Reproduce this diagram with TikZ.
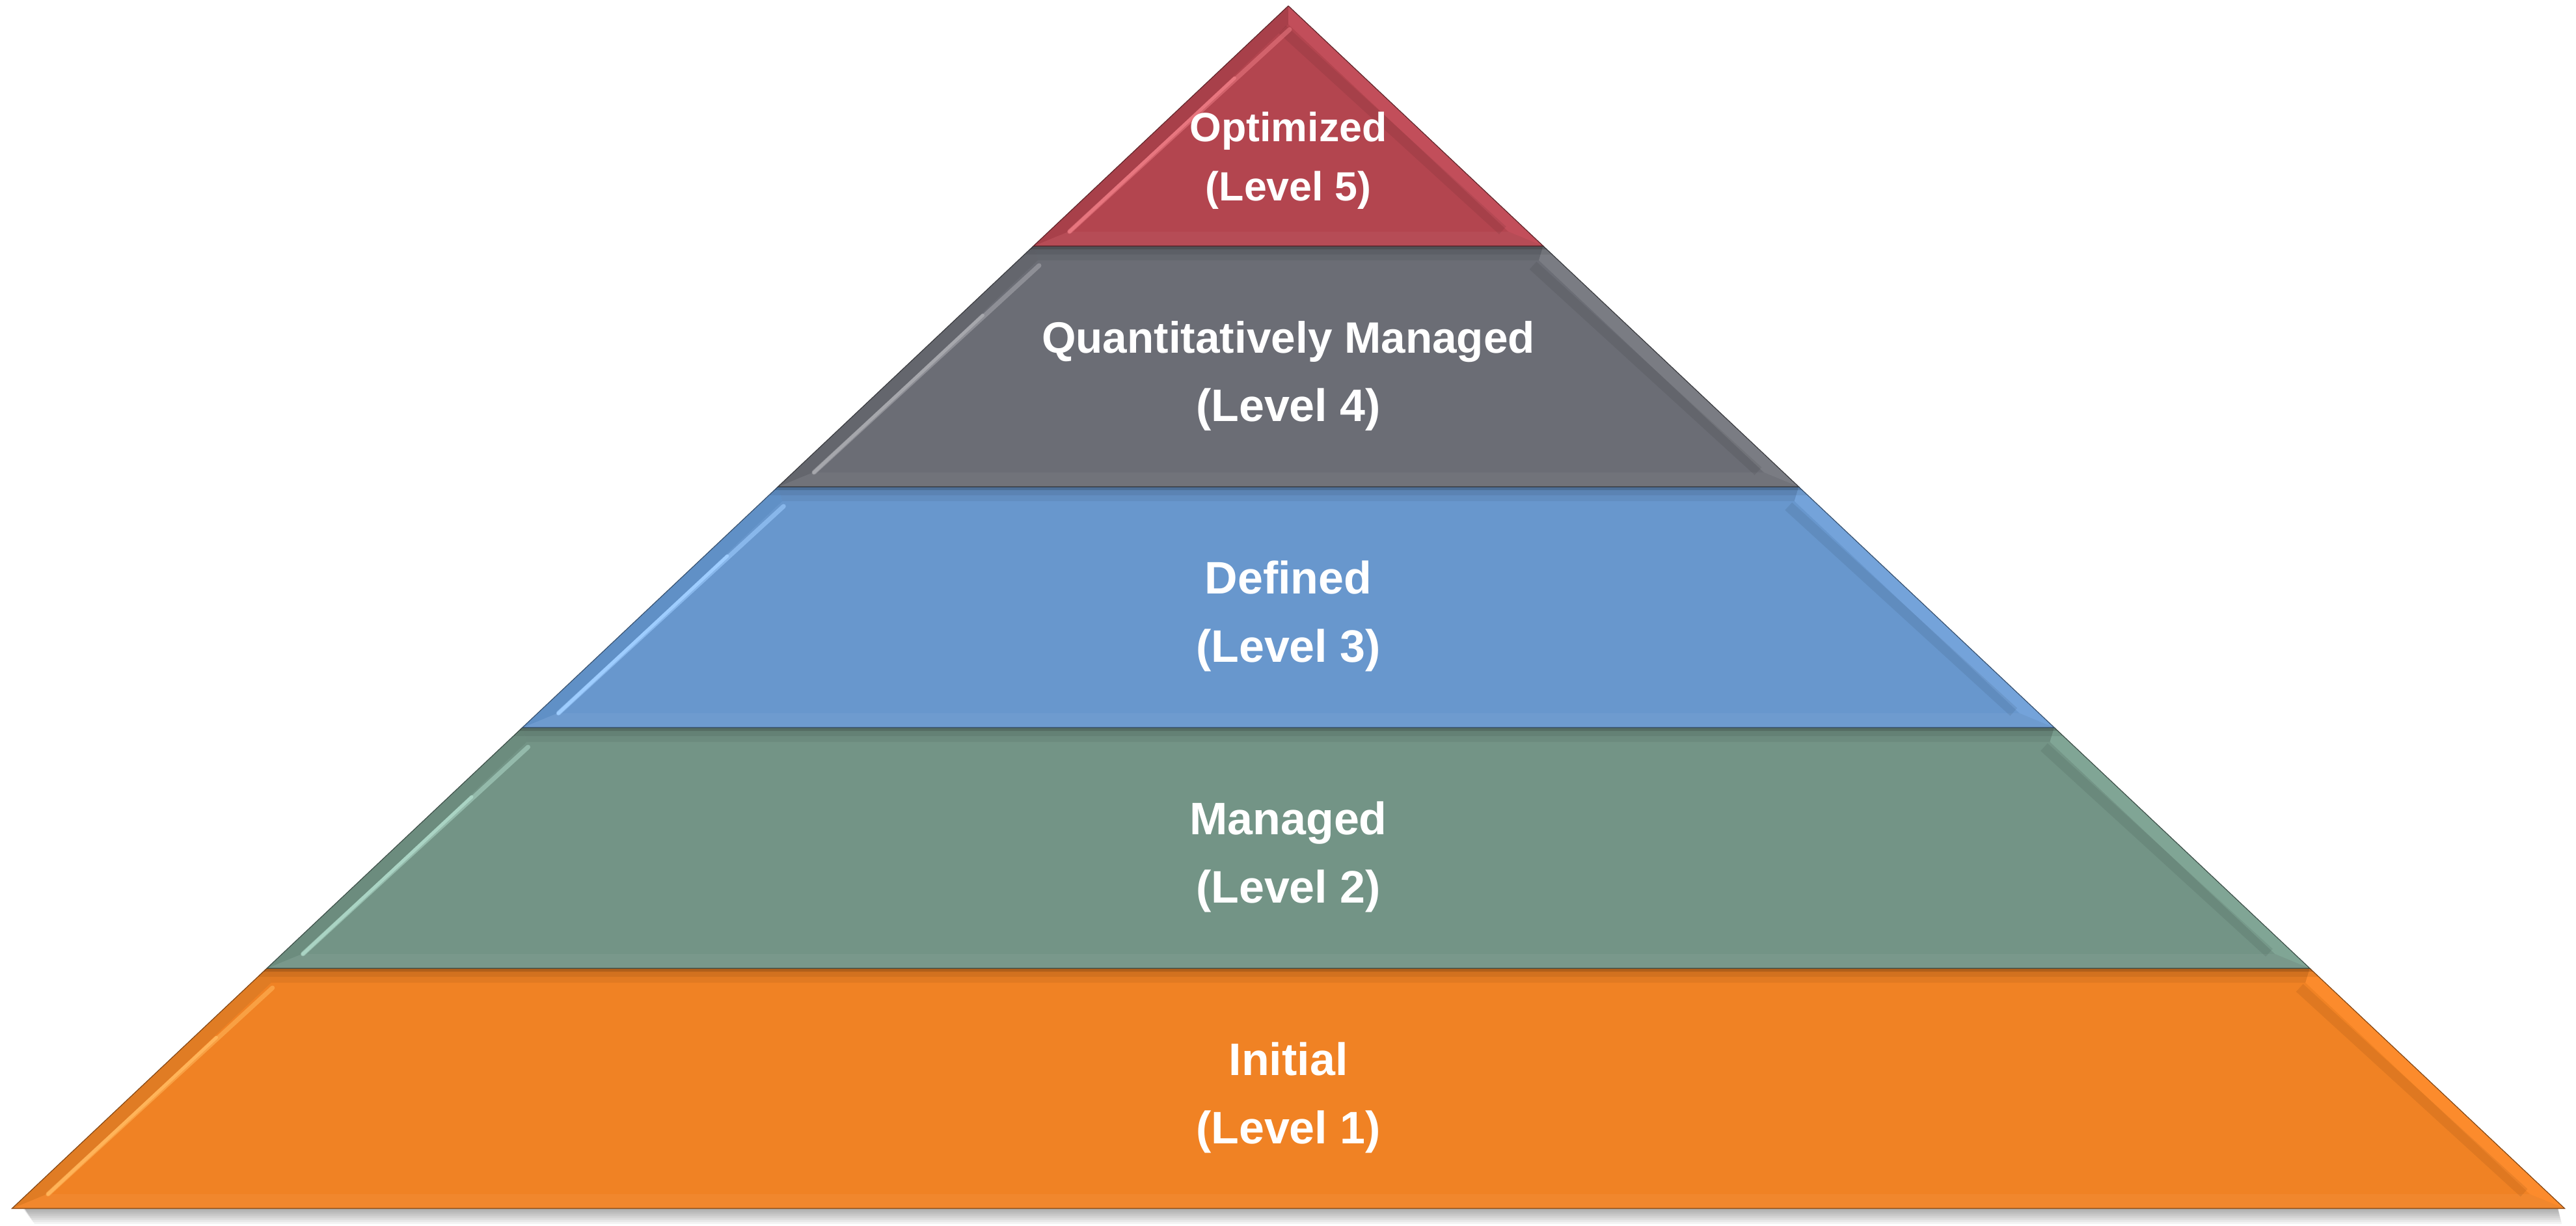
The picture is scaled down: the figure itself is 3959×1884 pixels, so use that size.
\documentclass[tikz,border=0pt]{standalone}
\usepackage{fontspec}
\setmainfont{Liberation Sans}
\usetikzlibrary{calc}
\definecolor{redm}{HTML}{B3454F}
\definecolor{redl}{HTML}{A8404A}
\definecolor{redr}{HTML}{C24E5A}
\definecolor{redh}{HTML}{E8767F}
\definecolor{greym}{HTML}{6B6D75}
\definecolor{greyl}{HTML}{64666D}
\definecolor{greyr}{HTML}{7A7C83}
\definecolor{greyh}{HTML}{A6A7AC}
\definecolor{bluem}{HTML}{6897CD}
\definecolor{bluel}{HTML}{6090C6}
\definecolor{bluer}{HTML}{74A3DA}
\definecolor{blueh}{HTML}{9ECDFF}
\definecolor{greenm}{HTML}{739486}
\definecolor{greenl}{HTML}{6C8C7E}
\definecolor{greenr}{HTML}{80A595}
\definecolor{greenh}{HTML}{AAD4C4}
\definecolor{orangem}{HTML}{F08224}
\definecolor{orangel}{HTML}{E07C24}
\definecolor{oranger}{HTML}{FC8B2C}
\definecolor{orangeh}{HTML}{FFB459}
\def\pyk{1.06142}
\def\pyd{22}
\def\pyh{30}
\newcommand\pyrlayer[6]{%
 \pgfmathsetmacro\pyT{#1}%
 \pgfmathsetmacro\pyB{#2}%
 \pgfmathsetmacro\pyYi{max(#1+\pyd, 9+\pyh/\pyk)}%
 \pgfmathsetmacro\pyYo{#2-\pyd}%
 \pgfmathsetmacro\pyLt{1980-\pyk*(#1-9)}%
 \pgfmathsetmacro\pyRt{1980+\pyk*(#1-9)}%
 \pgfmathsetmacro\pyLb{1980-\pyk*(#2-9)}%
 \pgfmathsetmacro\pyRb{1980+\pyk*(#2-9)}%
 \pgfmathsetmacro\pyLi{1980-\pyk*(\pyYi-9)+\pyh}%
 \pgfmathsetmacro\pyRi{1980+\pyk*(\pyYi-9)-\pyh}%
 \pgfmathsetmacro\pyLo{1980-\pyk*(\pyYo-9)+\pyh}%
 \pgfmathsetmacro\pyRo{1980+\pyk*(\pyYo-9)-\pyh}%
 \fill[#3] (\pyLt,\pyT) -- (\pyRt,\pyT) -- (\pyRb,\pyB) -- (\pyLb,\pyB) -- cycle;
 \fill[#3!94!black] (\pyLt,\pyT) -- (\pyRt,\pyT) -- (\pyRi,\pyYi) -- (\pyLi,\pyYi) -- cycle;
 \fill[#3!96!white] (\pyLb,\pyB) -- (\pyRb,\pyB) -- (\pyRo,\pyYo) -- (\pyLo,\pyYo) -- cycle;
 \fill[#4] (\pyLt,\pyT) -- (\pyLi,\pyYi) -- (\pyLo,\pyYo) -- (\pyLb,\pyB) -- cycle;
 \fill[#5] (\pyRt,\pyT) -- (\pyRi,\pyYi) -- (\pyRo,\pyYo) -- (\pyRb,\pyB) -- cycle;
 \draw[black, opacity=0.07, line width=16pt] ($(\pyRi,\pyYi)+(-9,8)$) -- ($(\pyRo,\pyYo)+(-9,-2)$);
 \draw[#6, opacity=0.6, line width=7pt, line cap=round] ($(\pyLi,\pyYi)+(2,8)$) -- ($(\pyLo,\pyYo)+(2,0)$);
 \draw[#6, line width=5pt, line cap=round] ($(\pyLi,\pyYi)!0.25!(\pyLo,\pyYo)+(2,3)$) -- ($(\pyLo,\pyYo)+(2,0)$);
 \draw[#3!55!black, line width=1.2pt, line join=miter] (\pyLt,\pyT) -- (\pyLb,\pyB) -- (\pyRb,\pyB) -- (\pyRt,\pyT);
}
\newcommand\pyrsep[1]{%
 \pgfmathsetmacro\pyLa{1980-\pyk*(#1-9)}%
 \pgfmathsetmacro\pyRa{1980+\pyk*(#1-9)}%
 \pgfmathsetmacro\pyLc{1980-\pyk*(#1+5-9)}%
 \pgfmathsetmacro\pyRc{1980+\pyk*(#1+5-9)}%
 \pgfmathsetmacro\pyLd{1980-\pyk*(#1+13-9)}%
 \pgfmathsetmacro\pyRd{1980+\pyk*(#1+13-9)}%
 \fill[black, opacity=0.22] (\pyLa,#1) -- (\pyRa,#1) -- (\pyRc,#1+5) -- (\pyLc,#1+5) -- cycle;
 \fill[black, opacity=0.07] (\pyLc,#1+5) -- (\pyRc,#1+5) -- (\pyRd,#1+13) -- (\pyLd,#1+13) -- cycle;
}
\tikzset{lvltext/.style={text=white, font=\bfseries\fontsize{70}{84}\selectfont, anchor=base, inner sep=0pt},
 qmtext/.style={text=white, font=\bfseries\fontsize{67.5}{84}\selectfont, anchor=base, inner sep=0pt},
 toptext/.style={text=white, font=\bfseries\fontsize{62.7}{75}\selectfont, anchor=base, inner sep=0pt}}
\begin{document}
\begin{tikzpicture}[x=1pt,y=-1pt]
\useasboundingbox (0,0) rectangle (3959,1884);
\fill[white] (0,0) rectangle (3959,1884);
% drop shadow of the pyramid base
\foreach \s in {3,6,...,24} {
 \fill[black, opacity=0.045] (34,1850) -- (3930,1850) -- (3930+\s*0.3,1857+\s) -- (34+\s*0.8,1857+\s) -- cycle;
}
\pyrlayer{1488}{1857}{orangem}{orangel}{oranger}{orangeh}
\pyrlayer{1118}{1488}{greenm}{greenl}{greenr}{greenh}
\pyrlayer{748}{1118}{bluem}{bluel}{bluer}{blueh}
\pyrlayer{378}{748}{greym}{greyl}{greyr}{greyh}
\pyrlayer{9}{378}{redm}{redl}{redr}{redh}
\pyrsep{378}
\pyrsep{748}
\pyrsep{1118}
\pyrsep{1488}
\node[toptext] (l5a) at (1980,217) {Optimized};
\node[toptext] (l5b) at (1980,308) {(Level 5)};
\node[qmtext] (l4a) at (1980,542) {Quantitatively Managed};
\node[lvltext] (l4b) at (1980,647) {(Level 4)};
\node[lvltext] (l3a) at (1980,912) {Defined};
\node[lvltext] (l3b) at (1980,1017) {(Level 3)};
\node[lvltext] (l2a) at (1980,1282) {Managed};
\node[lvltext] (l2b) at (1980,1387) {(Level 2)};
\node[lvltext] (l1a) at (1980,1652) {Initial};
\node[lvltext] (l1b) at (1980,1757) {(Level 1)};
\end{tikzpicture}
\end{document}
